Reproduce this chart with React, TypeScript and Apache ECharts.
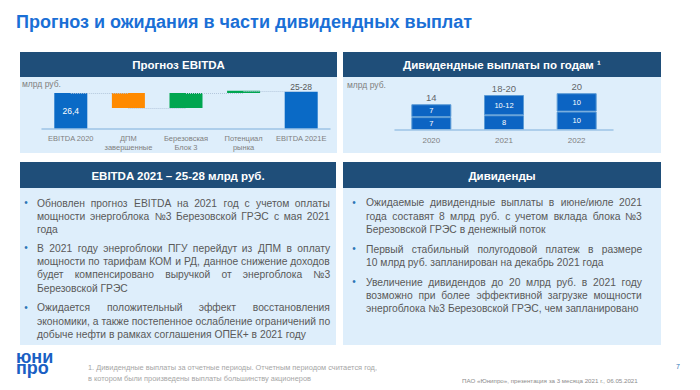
import React, { useEffect, useRef } from 'react';
import * as echarts from 'echarts';

// ---------- DATA ----------
const ebitdaCategories = ['EBITDA 2020', 'ДПМ\nзавершенные', 'Березовская\nБлок 3', 'Потенциал\nрынка', 'EBITDA 2021E'];
// signed change for middle steps; first and last are totals
const ebitdaChanges = [26.4, -11, 11, 1.5, 27.2];
const ebitdaIsTotal = [true, false, false, false, true];
const ebitdaLabels = ['26,4', '', '', '', '25-28'];

const divCategories = ['2020', '2021', '2022'];
const divFirst = [7, 8, 10];
const divSecond = [7, 11, 10];
const divFirstLabels = ['7', '8', '10'];
const divSecondLabels = ['7', '10-12', '10'];
const divTotalLabels = ['14', '18-20', '20'];

const pageTitle = 'Прогноз и ожидания в части дивидендных выплат';
const headerEbitda = 'Прогноз EBITDA';
const headerDiv = 'Дивидендные выплаты по годам ¹';
const headerEbitda2021 = 'EBITDA 2021 – 25-28 млрд руб.';
const headerDividends = 'Дивиденды';
const unitLabel = 'млрд руб.';

const leftParagraphs = [
  ['Обновлен прогноз EBITDA на 2021 год с учетом оплаты', 'мощности энергоблока №3 Березовской ГРЭС с мая 2021', 'года'],
  ['В 2021 году энергоблоки ПГУ перейдут из ДПМ в оплату', 'мощности по тарифам КОМ и РД, данное снижение доходов', 'будет компенсировано выручкой от энергоблока №3', 'Березовской ГРЭС'],
  ['Ожидается положительный эффект восстановления', 'экономики, а также постепенное ослабление ограничений по', 'добыче нефти в рамках соглашения ОПЕК+ в 2021 году'],
];
const rightParagraphs = [
  ['Ожидаемые дивидендные выплаты в июне/июле 2021', 'года составят 8 млрд руб. с учетом вклада блока №3', 'Березовской ГРЭС в денежный поток'],
  ['Первый стабильный полугодовой платеж в размере', '10 млрд руб. запланирован на декабрь 2021 года'],
  ['Увеличение дивидендов до 20 млрд руб. в 2021 году', 'возможно при более эффективной загрузке мощности', 'энергоблока №3 Березовской ГРЭС, чем запланировано'],
];
const footnoteLines = [
  '1. Дивидендные выплаты за отчетные периоды. Отчетным периодом считается год,',
  'в котором были произведены выплаты большинству акционеров',
];
const footerRight = 'ПАО «Юнипро», презентация за 3 месяца 2021 г., 06.05.2021';
const pageNumber = '7';
const logoText = 'юни\nпро';

// ---------- helpers ----------
const FAMILY = '"Liberation Sans", Arial, Helvetica, sans-serif';
const BODY_SIZE = 10.3;
let measureCtx: CanvasRenderingContext2D | null = null;
function measure(s: string, size: number, weight = 'normal') {
  if (!measureCtx) measureCtx = document.createElement('canvas').getContext('2d');
  const ctx = measureCtx!;
  ctx.font = `${weight} ${size}px ${FAMILY}`;
  return ctx.measureText(s).width;
}
function justify(line: string, target: number, size: number) {
  const words = line.split(' ');
  if (words.length < 2) return line;
  const wordsW = words.reduce((a, w) => a + measure(w, size), 0);
  const gap = (target - wordsW) / (words.length - 1);
  const nb = measure('\u00A0', size);
  const hair = measure('\u200A', size);
  let out = words[0];
  let placed = 0;
  for (let i = 1; i < words.length; i++) {
    const desired = gap * i - placed;
    const n = Math.max(1, Math.floor(desired / nb));
    const rem = desired - n * nb;
    const h = hair > 0.1 ? Math.max(0, Math.round(rem / hair)) : 0;
    out += '\u00A0'.repeat(n) + '\u200A'.repeat(h) + words[i];
    placed += n * nb + h * hair;
  }
  return out;
}

function panel(x: number, y: number, w: number, headerH: number, bodyH: number, title: string) {
  return [
    { type: 'rect', shape: { x, y, width: w, height: headerH + bodyH }, style: { fill: '#deeefb' }, z: 0 },
    { type: 'rect', shape: { x, y, width: w, height: headerH }, style: { fill: '#1f4e79' }, z: 1 },
    {
      type: 'text', x: x + w / 2, y: y + headerH / 2 + 0.5, z: 2,
      style: { text: title, fill: '#ffffff', fontSize: 11.5, fontWeight: 'bold', fontFamily: FAMILY, align: 'center', verticalAlign: 'middle' },
    },
  ];
}

function bodyText(paragraphs: string[][], x: number, right: number, bulletX: number, starts: number[]) {
  const els: any[] = [];
  const size = BODY_SIZE;
  const lh = 13.3;
  paragraphs.forEach((p, pi) => {
    els.push({
      type: 'text', x: bulletX, y: starts[pi] - 0.5, z: 3,
      style: { text: '•', fill: '#2e75b6', fontSize: 10, fontFamily: FAMILY, align: 'center', verticalAlign: 'middle' },
    });
    p.forEach((line, li) => {
      const isLast = li === p.length - 1;
      const txt = isLast ? line : justify(line, right - x, size);
      els.push({
        type: 'text', x, y: starts[pi] + li * lh, z: 3,
        style: { text: txt, fill: '#595959', fontSize: size, fontFamily: FAMILY, align: 'left', verticalAlign: 'middle' },
      });
    });
  });
  return els;
}

export default function App() {
  const ref = useRef<HTMLDivElement>(null);
  useEffect(() => {
    if (!ref.current) return;
    const chart = echarts.init(ref.current, null, { renderer: 'svg' });

    // waterfall computation
    const base: number[] = [];
    const vals: number[] = [];
    const levels: number[] = [];
    let running = 0;
    ebitdaChanges.forEach((c, i) => {
      if (ebitdaIsTotal[i]) {
        base.push(0); vals.push(c); running = c;
      } else if (c < 0) {
        base.push(running + c); vals.push(-c); running += c;
      } else {
        base.push(running); vals.push(c); running += c;
      }
      levels.push(running);
    });
    const ebitdaColors = ebitdaChanges.map((c, i) => (ebitdaIsTotal[i] ? '#0a6ac6' : c < 0 ? '#ff8a00' : '#00a650'));

    const connectors = levels.slice(0, -1).map((lv, i) => [
      { coord: [i, lv] },
      { coord: [i + 1, lv] },
    ]);

    const graphics: any[] = [
      {
        type: 'text', x: 16, y: 21.5, z: 3,
        style: { text: pageTitle, fill: '#1a6fd6', fontSize: 18, fontWeight: 'bold', fontFamily: FAMILY, align: 'left', verticalAlign: 'middle' },
      },
      ...panel(20, 52, 317, 25, 76, headerEbitda),
      ...panel(343, 52, 318, 25, 76, headerDiv),
      ...panel(20, 162, 316, 26, 157, headerEbitda2021),
      ...panel(343, 162, 318, 26, 157, headerDividends),
      {
        type: 'text', x: 22, y: 84, z: 3,
        style: { text: unitLabel, fill: '#7f7f7f', fontSize: 8.5, fontFamily: FAMILY, align: 'left', verticalAlign: 'middle' },
      },
      {
        type: 'text', x: 347, y: 85, z: 3,
        style: { text: unitLabel, fill: '#7f7f7f', fontSize: 8.5, fontFamily: FAMILY, align: 'left', verticalAlign: 'middle' },
      },
      ...bodyText(leftParagraphs, 37, 330, 26, [203.3, 248.3, 307.7]),
      ...bodyText(rightParagraphs, 366, 642, 354, [202.7, 249.3, 282.3]),
      ...footnoteLines.map((t, i) => ({
        type: 'text', x: 88, y: 367 + i * 11, z: 3,
        style: { text: t, fill: '#a6a6a6', fontSize: 7.4, fontFamily: FAMILY, align: 'left', verticalAlign: 'middle' },
      })),
      {
        type: 'text', x: 462, y: 380, z: 3,
        style: { text: footerRight, fill: '#8c8c8c', fontSize: 6.2, fontFamily: FAMILY, align: 'left', verticalAlign: 'middle' },
      },
      {
        type: 'text', x: 678, y: 366, z: 3,
        style: { text: pageNumber, fill: '#2e75b6', fontSize: 7, fontFamily: FAMILY, align: 'center', verticalAlign: 'middle' },
      },
      {
        type: 'text', x: 16, y: 362, z: 3,
        style: { text: logoText, fill: '#1a5fc4', fontSize: 18, lineHeight: 11, fontWeight: 'bold', fontFamily: FAMILY, align: 'left', verticalAlign: 'middle' },
      },
    ];

    const catLabel = { color: '#7f7f7f', fontSize: 7.5, lineHeight: 9, fontFamily: FAMILY, margin: 5, interval: 0 };

    chart.setOption({
      animation: false,
      backgroundColor: '#ffffff',
      graphic: { elements: graphics },
      grid: [
        { left: 42, top: 88, width: 288, height: 41, containLabel: false, z: 5 },
        { left: 395, top: 84, width: 218, height: 46, containLabel: false, z: 5 },
      ],
      xAxis: [
        {
          type: 'category', gridIndex: 0, data: ebitdaCategories, z: 5,
          axisLine: { lineStyle: { color: '#9dc3e6', width: 1.5 } }, axisTick: { show: false },
          axisLabel: catLabel,
        },
        {
          type: 'category', gridIndex: 1, data: divCategories, z: 5,
          axisLine: { lineStyle: { color: '#9dc3e6', width: 1.5 } }, axisTick: { show: false },
          axisLabel: { ...catLabel, fontSize: 8, margin: 6 },
        },
      ],
      yAxis: [
        { type: 'value', gridIndex: 0, min: 0, max: 30, show: false, splitLine: { show: false } },
        { type: 'value', gridIndex: 1, min: 0, max: 25, show: false, splitLine: { show: false } },
      ],
      series: [
        {
          type: 'line', xAxisIndex: 0, yAxisIndex: 0, data: [], z: 3, silent: true,
          markLine: {
            symbol: 'none', silent: true, label: { show: false },
            lineStyle: { type: 'dotted', color: '#b4c7dc', width: 1 },
            data: connectors,
          },
        },
        {
          type: 'bar', xAxisIndex: 0, yAxisIndex: 0, stack: 'w', barWidth: 33, z: 4, silent: true,
          itemStyle: { color: 'rgba(0,0,0,0)' }, data: base,
        },
        {
          type: 'bar', xAxisIndex: 0, yAxisIndex: 0, stack: 'w', barWidth: 33, z: 4,
          data: vals.map((v, i) => ({
            value: v,
            itemStyle: { color: ebitdaColors[i] },
            label: ebitdaLabels[i]
              ? {
                  show: true,
                  position: i === 0 ? 'inside' : 'top',
                  distance: 0,
                  formatter: ebitdaLabels[i],
                  color: i === 0 ? '#ffffff' : '#595959',
                  fontSize: 8.5, fontFamily: FAMILY,
                }
              : { show: false },
          })),
        },
        {
          type: 'bar', xAxisIndex: 1, yAxisIndex: 1, stack: 'd', barWidth: 40, z: 4,
          itemStyle: { color: '#0c64c3', borderColor: '#5b9bd5', borderWidth: 1 },
          label: { show: true, position: 'inside', color: '#ffffff', fontSize: 7.5, fontFamily: FAMILY, formatter: (p: any) => divFirstLabels[p.dataIndex] },
          data: divFirst,
        },
        {
          type: 'bar', xAxisIndex: 1, yAxisIndex: 1, stack: 'd', barWidth: 40, z: 4,
          itemStyle: { color: '#0c64c3', borderColor: '#5b9bd5', borderWidth: 1 },
          label: { show: true, position: 'inside', color: '#ffffff', fontSize: 7.5, fontFamily: FAMILY, formatter: (p: any) => divSecondLabels[p.dataIndex] },
          data: divSecond,
        },
        {
          type: 'scatter', xAxisIndex: 1, yAxisIndex: 1, symbolSize: 1, z: 4, silent: true,
          itemStyle: { color: 'rgba(0,0,0,0)' },
          label: { show: true, position: 'top', distance: 1, color: '#404040', fontSize: 9.5, fontFamily: FAMILY, formatter: (p: any) => divTotalLabels[p.dataIndex] },
          data: divFirst.map((v, i) => v + divSecond[i]),
        },
      ],
    });
    return () => chart.dispose();
  }, []);
  return <div ref={ref} style={{ position: 'absolute', left: 0, top: 0, width: 700, height: 390 }} />;
}
